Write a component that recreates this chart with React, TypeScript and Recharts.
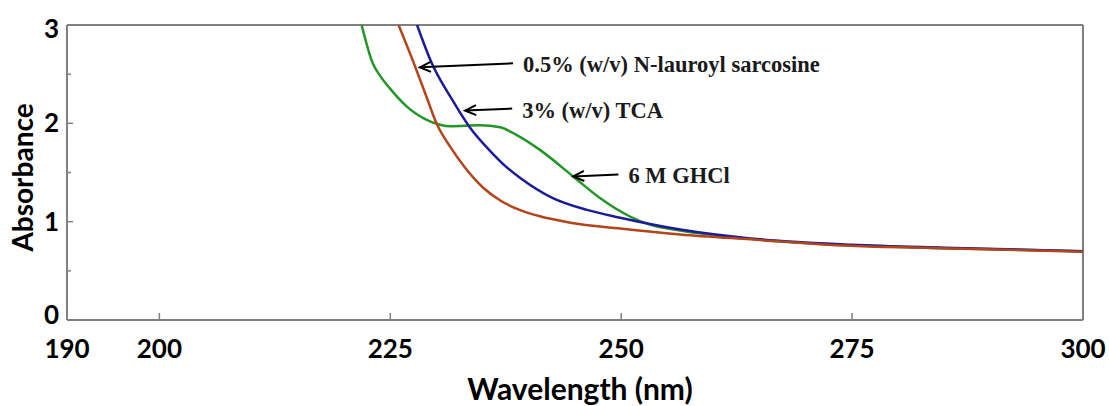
import React from "react";
import {
  LineChart,
  Line,
  XAxis,
  YAxis,
  ReferenceLine,
  Label,
} from "recharts";

// wavelength (nm) / absorbance
const GHCL_NM = [221.9, 223.1, 224.0, 225.0, 226.8, 229.3, 231.5, 234.7, 236.9, 238.7, 241.2, 244.8, 247.7, 251.0, 253.1, 256.4, 264, 275, 285, 300];
const GHCL_ABS = [3.0, 2.61, 2.47, 2.35, 2.17, 2.02, 1.97, 1.98, 1.96, 1.88, 1.73, 1.46, 1.24, 1.05, 0.97, 0.91, 0.825, 0.76, 0.73, 0.7];

const TCA_NM = [227.9, 229.5, 231.7, 233.6, 235.8, 237.4, 239.0, 242.6, 246.3, 249.9, 256.4, 264, 275, 285, 300];
const TCA_ABS = [3.0, 2.61, 2.24, 1.96, 1.72, 1.57, 1.45, 1.24, 1.12, 1.04, 0.92, 0.83, 0.765, 0.735, 0.7];

const SARC_NM = [225.9, 227.6, 229.0, 230.0, 231.5, 233.0, 235.0, 237.0, 239.0, 241.0, 244.5, 249.9, 256.4, 264, 274.8, 284.5, 300];
const SARC_ABS = [3.0, 2.6, 2.25, 2.0, 1.76, 1.56, 1.35, 1.21, 1.12, 1.06, 0.99, 0.93, 0.87, 0.82, 0.755, 0.73, 0.695];

const X_TICKS = [190, 200, 225, 250, 275, 300];
const Y_TICKS = [0, 0.5, 1, 1.5, 2, 2.5, 3];

// annotation arrows: tail -> tip, in data units
const NOTE_TEXT = ["0.5% (w/v) N-lauroyl sarcosine", "3% (w/v) TCA", "6 M GHCl"];
const NOTE_TAIL = [
  [238.3, 2.61],
  [238.2, 2.15],
  [249.7, 1.48],
];
const NOTE_TIP = [
  [228.2, 2.57],
  [233.1, 2.13],
  [244.8, 1.46],
];

const toData = (nm: number[], abs: number[]) =>
  nm.map((v, i) => ({ nm: v, abs: abs[i] }));

const ghclData = toData(GHCL_NM, GHCL_ABS);
const tcaData = toData(TCA_NM, TCA_ABS);
const sarcData = toData(SARC_NM, SARC_ABS);

const AXIS_COLOR = "#808080";
const TICK_FONT = "Lato, 'Open Sans', sans-serif";

function YTick(props: any) {
  const { x, y, payload } = props;
  const v = payload.value;
  const major = Number.isInteger(v);
  // end labels are nudged inside the frame like in the original
  const shift = v === 0 ? -5 : v === 3 ? 4 : 0;
  return (
    <g>
      <line x1={x} x2={x + (major ? 6 : 4)} y1={y} y2={y} stroke={AXIS_COLOR} strokeWidth={1.5} />
      {major && (
        <text
          x={x - 8}
          y={y + 9 + shift}
          textAnchor="end"
          fontFamily={TICK_FONT}
          fontWeight={700}
          fontSize={26}
          fill="#000"
        >
          {v}
        </text>
      )}
    </g>
  );
}

function XTick(props: any) {
  const { x, y, payload } = props;
  return (
    <g>
      <line x1={x} x2={x} y1={y} y2={y - 7} stroke={AXIS_COLOR} strokeWidth={1.5} />
      <text
        x={x}
        y={y + 38}
        textAnchor="middle"
        fontFamily={TICK_FONT}
        fontWeight={700}
        fontSize={26}
        fill="#000"
      >
        {payload.value}
      </text>
    </g>
  );
}

function arrowShape(text: string) {
  return (props: any) => {
    const { x1, y1, x2, y2 } = props;
    const dx = x2 - x1;
    const dy = y2 - y1;
    const len = Math.sqrt(dx * dx + dy * dy) || 1;
    const ux = dx / len;
    const uy = dy / len;
    const hl = 11;
    const hw = 5;
    const bx = x2 - ux * hl;
    const by = y2 - uy * hl;
    return (
      <g>
        <line x1={x1} y1={y1} x2={x2} y2={y2} stroke="#000" strokeWidth={2} />
        <polyline
          points={`${bx - uy * hw},${by + ux * hw} ${x2},${y2} ${bx + uy * hw},${by - ux * hw}`}
          fill="none"
          stroke="#000"
          strokeWidth={2}
        />
        <text
          x={x1 + 10}
          y={y1 + 9}
          fontFamily="'Liberation Serif', 'Times New Roman', serif"
          fontWeight={700}
          fontSize={22.5}
          fill="#1a1a1a"
        >
          {text}
        </text>
      </g>
    );
  };
}

function YTitle(props: any) {
  const { viewBox } = props;
  const cy = viewBox.y + viewBox.height / 2 + 5;
  return (
    <text
      transform={`translate(33, ${cy}) rotate(-90)`}
      textAnchor="middle"
      fontFamily={TICK_FONT}
      fontWeight={700}
      fontSize={28}
      fill="#000"
    >
      Absorbance
    </text>
  );
}

function XTitle(props: any) {
  const { viewBox } = props;
  const cx = viewBox.x + viewBox.width / 2 + 5;
  return (
    <text
      x={cx}
      y={400}
      textAnchor="middle"
      fontFamily={TICK_FONT}
      fontWeight={700}
      fontSize={30}
      fill="#000"
    >
      Wavelength (nm)
    </text>
  );
}

export default function App() {
  return (
    <div style={{ position: "absolute", left: 0, top: 0, background: "#fff" }}>
      <LineChart
        width={1109}
        height={406}
        margin={{ top: 25, right: 26, bottom: 0, left: 0 }}
      >
        <XAxis
          dataKey="nm"
          type="number"
          domain={[190, 300]}
          ticks={X_TICKS}
          allowDataOverflow
          height={86}
          tickSize={0}
          tickMargin={0}
          tick={<XTick />}
          axisLine={{ stroke: AXIS_COLOR, strokeWidth: 2 }}
          tickLine={false}
          interval={0}
        >
          <Label content={<XTitle />} />
        </XAxis>
        <YAxis
          type="number"
          domain={[0, 3]}
          ticks={Y_TICKS}
          allowDataOverflow
          width={67}
          tickSize={0}
          tickMargin={0}
          tick={<YTick />}
          axisLine={{ stroke: AXIS_COLOR, strokeWidth: 2 }}
          tickLine={false}
          interval={0}
        >
          <Label content={<YTitle />} />
        </YAxis>
        <ReferenceLine y={3} stroke={AXIS_COLOR} strokeWidth={2} />
        <ReferenceLine x={300} stroke={AXIS_COLOR} strokeWidth={2} />
        <Line
          data={ghclData}
          dataKey="abs"
          type="monotone"
          stroke="#229626"
          strokeWidth={2.5}
          dot={false}
          isAnimationActive={false}
        />
        <Line
          data={tcaData}
          dataKey="abs"
          type="monotone"
          stroke="#1c1c9a"
          strokeWidth={2.5}
          dot={false}
          isAnimationActive={false}
        />
        <Line
          data={sarcData}
          dataKey="abs"
          type="monotone"
          stroke="#b4441c"
          strokeWidth={2.5}
          dot={false}
          isAnimationActive={false}
        />
        {NOTE_TEXT.map((t, i) => (
          <ReferenceLine
            key={t}
            segment={[
              { x: NOTE_TAIL[i][0], y: NOTE_TAIL[i][1] },
              { x: NOTE_TIP[i][0], y: NOTE_TIP[i][1] },
            ]}
            shape={arrowShape(t)}
          />
        ))}
      </LineChart>
    </div>
  );
}
